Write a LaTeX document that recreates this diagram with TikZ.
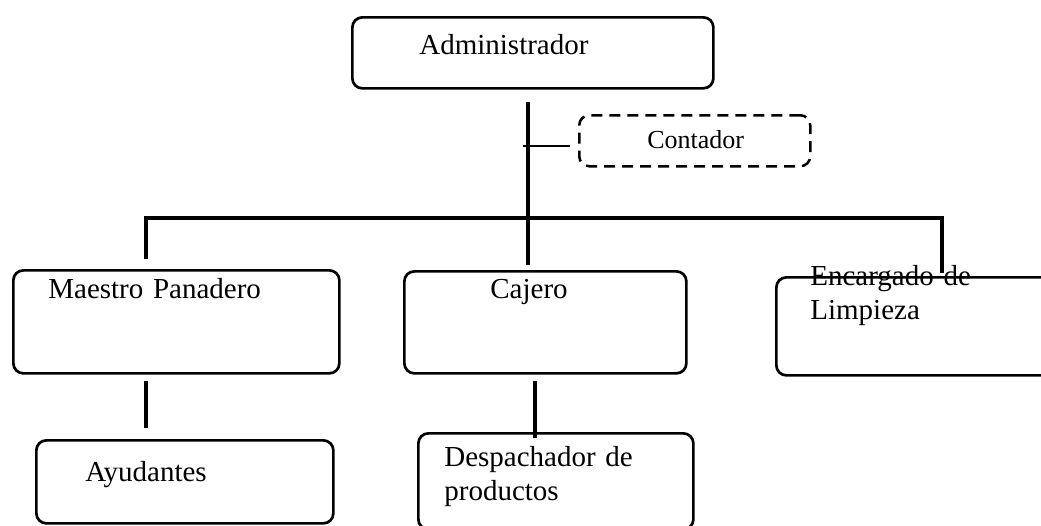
\documentclass[tikz,border=0pt]{standalone}
\usepackage{fontspec}
\setmainfont{Liberation Serif}
\usepackage{tikz}

\begin{document}
\begin{tikzpicture}[x=1pt, y=-1pt, caja/.style={draw, rounded corners=10pt, line width=2.7pt, anchor=north west, align=left, inner ysep=0pt, font=\fontsize{29pt}{34pt}\selectfont}, linea/.style={line width=3.8pt}, fina/.style={line width=1.5pt}]
	
	\useasboundingbox (0,0) rectangle (1041,525);
	
	% puestos
	\node[caja, inner xsep=67pt, text width=227pt, text height=37pt, text depth=34pt] (admin) at (351,16) {Administrador};
	\node[caja, dash pattern=on 11pt off 7pt, line width=2.5pt, font=\fontsize{26pt}{30pt}\selectfont, inner xsep=68pt, text width=95pt, text height=33pt, text depth=18pt] (contador) at (578,114) {Contador};
	\node[caja, inner xsep=35pt, text width=256pt, text height=28pt, text depth=75pt] (maestro) at (12,269) {Maestro Panadero};
	\node[caja, inner xsep=86pt, text width=110pt, text height=27pt, text depth=75pt] (cajero) at (403,270) {Cajero};
	\node[caja, inner xsep=34pt, text width=207pt, text height=8pt, text depth=90pt] (encargado) at (775,276) {Encargado de\\Limpieza};
	\node[caja, inner xsep=49pt, text width=199pt, text height=41pt, text depth=42pt] (ayudantes) at (35,439) {Ayudantes};
	\node[caja, inner xsep=26pt, text width=223pt, text height=33pt, text depth=63pt] (despachador) at (417,432) {Despachador de\\productos};
	
	% lineas
	\coordinate (barra) at (528,218);
	\coordinate (izq) at (146,218);
	\coordinate (der) at (942,218);
	\coordinate (medio) at (535,400);
	
	\draw[linea, shorten <=12pt, shorten >=5pt] (admin.south -| barra) -- (cajero.north -| barra);
	\draw[linea] ([yshift=10pt]maestro.north -| izq) -- (izq) -- (der) -- ([yshift=3pt]encargado.north -| der);
	\draw[fina] ([xshift=-55pt,yshift=-5pt]contador.west) -- ([xshift=-8pt,yshift=-5pt]contador.west);
	\draw[linea, shorten <=6pt, shorten >=11pt] (maestro.south -| izq) -- (ayudantes.north -| izq);
	\draw[linea, shorten <=6pt, shorten >=-6pt] (cajero.south -| medio) -- (despachador.north -| medio);
	
\end{tikzpicture}
\end{document}
